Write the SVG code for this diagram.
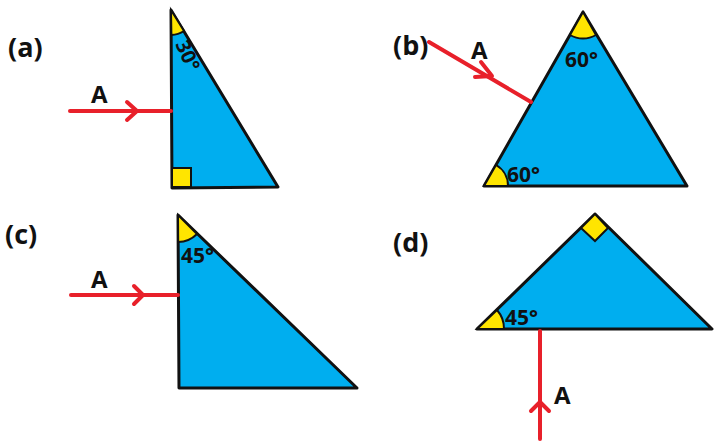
<svg xmlns="http://www.w3.org/2000/svg" width="720" height="448" viewBox="0 0 720 448">
<style>
.tri{fill:#00AEEF;stroke:#111;stroke-width:3;stroke-linejoin:round}
.ang{fill:#FFE500;stroke:#111;stroke-width:2}
.ray{stroke:#E8202A;stroke-width:4;fill:none;stroke-linecap:round}
.chev{stroke:#E8202A;stroke-width:4;fill:none;stroke-linecap:round;stroke-linejoin:round}
.lbl{font-family:"Open Sans","Liberation Sans",sans-serif;font-weight:bold;font-size:27px;fill:#111}
.deg{font-family:"Open Sans","Liberation Sans",sans-serif;font-weight:bold;font-size:21px;fill:#111}
.a{font-family:"Open Sans","Liberation Sans",sans-serif;font-weight:bold;font-size:24px;fill:#111}
</style>
<rect width="720" height="448" fill="#fff"/>
<g id="a">
<polygon class="tri" points="171,10 172,188 278,187"/>
<path class="ang" d="M171,10 L171.4,35 A25,25 0 0 0 184,31 Z"/>
<rect class="ang" x="172" y="168" width="19" height="19"/>
<text class="deg" style="font-size:20px" transform="translate(175,44) rotate(66)">30°</text>
<text class="lbl" x="8" y="57">(a)</text>
</g>
<g id="b">
<polygon class="tri" points="583,12 484,186 687,186"/>
<path class="ang" d="M583,12 L570,35 A26,26 0 0 0 596,35 Z"/>
<path class="ang" d="M484,186 L496,165 A24,24 0 0 1 508,186 Z"/>
<text class="deg" x="565" y="67">60°</text>
<text class="deg" x="507" y="182">60°</text>
<text class="lbl" x="393" y="55">(b)</text>
</g>
<g id="c">
<polygon class="tri" points="178,215 179,388 357,388"/>
<path class="ang" d="M178,215 L178.2,242 A27,27 0 0 0 197,234 Z"/>
<text class="deg" x="181" y="263">45°</text>
<text class="lbl" x="5" y="244">(c)</text>
</g>
<g id="d">
<polygon class="tri" points="477,329 595,214 712,329"/>
<path class="ang" d="M595,214 L581,228 L595,241 L608,228 Z"/>
<path class="ang" d="M477,329 L497,310 A28,28 0 0 1 504,329 Z"/>
<text class="deg" x="505" y="325">45°</text>
<text class="lbl" x="393" y="252">(d)</text>
</g>
<g id="connectors">
<line class="ray" x1="70" y1="111" x2="171" y2="111"/>
<polyline class="chev" points="127,102 137,111 127,120"/>
<text class="a" x="91" y="103">A</text>
<line class="ray" x1="429" y1="42" x2="531" y2="102"/>
<polyline class="chev" points="481,62 492,76 475,77"/>
<text class="a" x="471" y="59">A</text>
<line class="ray" x1="71" y1="295" x2="178" y2="295"/>
<polyline class="chev" points="134,286 143,295 134,304"/>
<text class="a" x="91" y="288">A</text>
<line class="ray" x1="540" y1="331" x2="540" y2="439"/>
<polyline class="chev" points="531,411 540,402 549,411"/>
<text class="a" x="554" y="404">A</text>
</g>
</svg>
